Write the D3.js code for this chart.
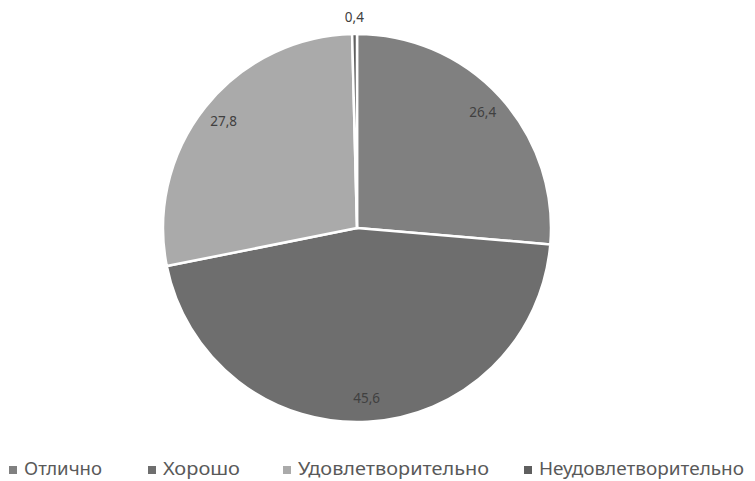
<!DOCTYPE html>
<html>
<head>
<meta charset="utf-8">
<script src="https://cdn.jsdelivr.net/npm/d3@7"></script>
<style>
  body { margin: 0; background: #fff; }
  svg { display: block; font-family: "Noto Sans", "DejaVu Sans", sans-serif; }
</style>
</head>
<body>
<div id="chart"></div>
<script>
var svgWidth = 755;
var svgHeight = 481;

// data
var categories = ["Отлично", "Хорошо", "Удовлетворительно", "Неудовлетворительно"];
var values = [26.4, 45.6, 27.8, 0.4];
var valueLabels = ["26,4", "45,6", "27,8", "0,4"];
var colors = ["#808080", "#6e6e6e", "#aaaaaa", "#5f5f5f"];

// legend layout (x of each marker, width of each label)
var legendX = [9, 148, 283, 524];
var legendTextW = [78, 77, 191, 205];

var cx = 357, cy = 228, radius = 194;

var svg = d3.select("#chart")
  .append("svg")
  .attr("width", svgWidth)
  .attr("height", svgHeight);

var pieGroup = svg.append("g")
  .attr("transform", `translate(${cx}, ${cy})`);

var pie = d3.pie().sort(null).value(d => d);
var arcs = pie(values);

var arc = d3.arc().innerRadius(0).outerRadius(radius);
var labelArc = d3.arc().innerRadius(radius * 0.88).outerRadius(radius * 0.88);

pieGroup.selectAll("path")
  .data(arcs)
  .enter()
  .append("path")
  .attr("d", arc)
  .attr("fill", (d, i) => colors[i])
  .attr("stroke", "#fff")
  .attr("stroke-width", 2.5)
  .attr("stroke-linejoin", "round");

// value labels: inside, except the tiny slice which goes outside
pieGroup.selectAll(".val")
  .data(arcs)
  .enter()
  .append("text")
  .attr("class", "val")
  .attr("transform", function(d, i) {
    if (d.endAngle - d.startAngle < 0.1) {
      var a = (d.startAngle + d.endAngle) / 2;
      var r = radius + 17;
      return `translate(${Math.sin(a) * r}, ${-Math.cos(a) * r})`;
    }
    return `translate(${labelArc.centroid(d)})`;
  })
  .attr("text-anchor", "middle")
  .attr("dy", "0.35em")
  .attr("font-size", 13.5)
  .attr("fill", "#404040")
  .text((d, i) => valueLabels[i]);

// legend
var legend = svg.append("g").attr("transform", "translate(0, 475)");

var items = legend.selectAll("g")
  .data(categories)
  .enter()
  .append("g")
  .attr("transform", (d, i) => `translate(${legendX[i]}, 0)`);

items.append("rect")
  .attr("x", 0)
  .attr("y", -9)
  .attr("width", 8)
  .attr("height", 8)
  .attr("fill", (d, i) => colors[i]);

items.append("text")
  .attr("x", 15)
  .attr("y", 0)
  .attr("font-size", 18.5)
  .attr("fill", "#595959")
  .attr("textLength", (d, i) => legendTextW[i])
  .attr("lengthAdjust", "spacingAndGlyphs")
  .text(d => d);
</script>
</body>
</html>
